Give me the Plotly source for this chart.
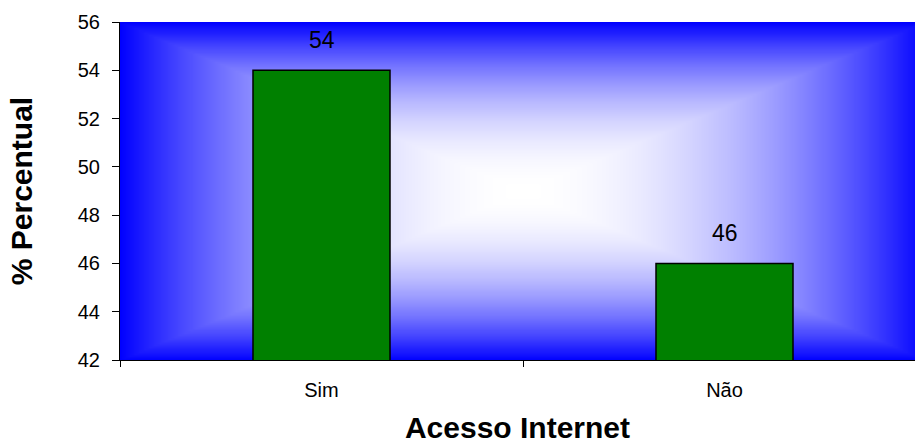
import numpy as np
import plotly.graph_objects as go

# Survey result: share of respondents with internet access
categorias = ["Sim", "Não"]
percentuais = [54, 46]

y_min, y_max, y_step = 42, 56, 2

FONT = "Arial, Liberation Sans, sans-serif"
W, H = 915, 444
M_L, M_R, M_T, M_B = 120, 0, 22, 84

# The plot frame is 806 px wide, only 795 px of it fit in the page
frame_w = 806
visible_w = W - M_L - M_R
cat_span = frame_w / len(categorias)

# Rectangular "from centre" fill: white in the middle, blue toward the edges
n = 161
u = np.linspace(-1, 1, n)
uu, vv = np.meshgrid(u, u)
shade = np.maximum(np.abs(uu), np.abs(vv)) ** 2

fig = go.Figure()

fig.add_trace(go.Heatmap(
    x=u, y=u, z=shade,
    colorscale=[[0, "#ffffff"], [1, "#0000ff"]],
    zmin=0, zmax=1, zsmooth="best",
    showscale=False, hoverinfo="skip",
    xaxis="x", yaxis="y",
))

fig.add_trace(go.Bar(
    x=categorias, y=percentuais,
    width=137 / cat_span,
    marker=dict(color="#008000", line=dict(color="#000000", width=1.5)),
    xaxis="x2", yaxis="y2",
    hoverinfo="x+y",
))

for cat, val in zip(categorias, percentuais):
    fig.add_annotation(
        x=cat, y=val, xref="x2", yref="y2",
        text=str(val), showarrow=False,
        yanchor="bottom", yshift=15,
        font=dict(family=FONT, size=23, color="#000000"),
    )

fig.update_layout(
    width=W, height=H,
    margin=dict(l=M_L, r=M_R, t=M_T, b=M_B, pad=0),
    paper_bgcolor="#ffffff",
    plot_bgcolor="#ffffff",
    showlegend=False,
    xaxis=dict(visible=False, range=[-1, -1 + 2 * visible_w / frame_w], fixedrange=True),
    yaxis=dict(visible=False, range=[-1, 1], fixedrange=True),
    xaxis2=dict(
        overlaying="x", type="category",
        range=[-0.5, -0.5 + visible_w / cat_span],
        showline=True, linecolor="#000000", linewidth=1,
        ticks="outside", ticklen=6, tickcolor="#000000", tickwidth=1,
        tickson="boundaries",
        showgrid=False, zeroline=False,
        tickfont=dict(family=FONT, size=20, color="#000000"),
        ticklabelstandoff=12,
        title=dict(text="Acesso Internet", standoff=16,
                   font=dict(family=FONT, size=30, color="#000000", weight="bold")),
    ),
    yaxis2=dict(
        overlaying="y", side="left",
        range=[y_min, y_max], dtick=y_step, tick0=y_min,
        showline=True, linecolor="#000000", linewidth=1,
        ticks="outside", ticklen=7, tickcolor="#000000", tickwidth=1,
        showgrid=False, zeroline=False,
        tickfont=dict(family=FONT, size=20, color="#000000"),
        ticklabelstandoff=8,
        title=dict(text="% Percentual", standoff=36,
                   font=dict(family=FONT, size=30, color="#000000", weight="bold")),
    ),
)

fig.write_html("out.html")
